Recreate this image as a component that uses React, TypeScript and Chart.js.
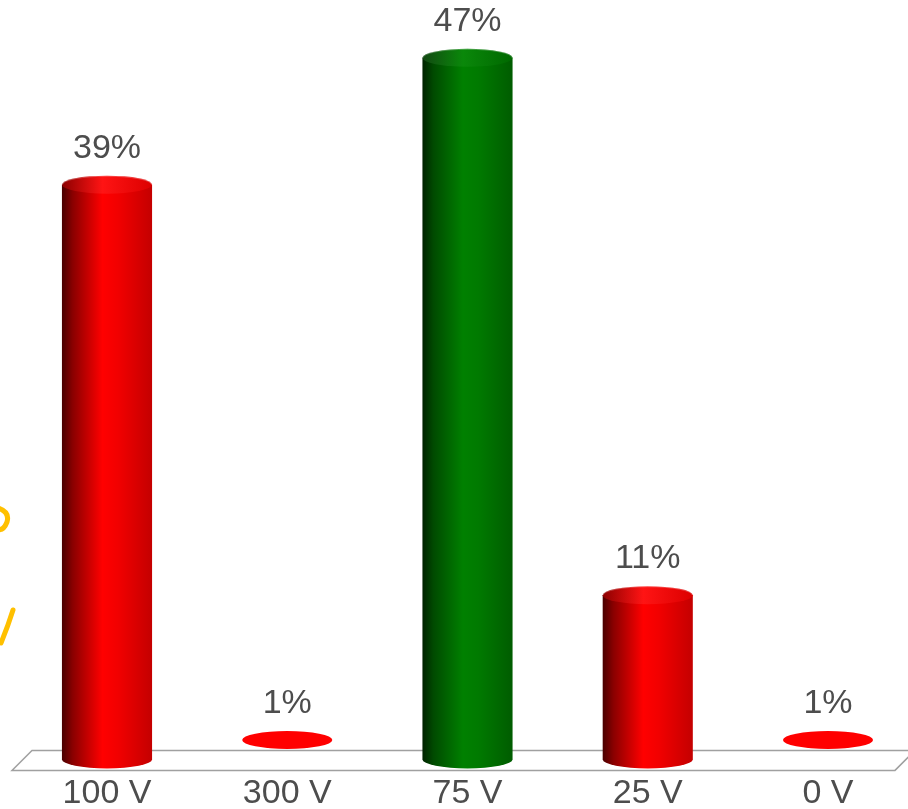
import React, { useEffect, useRef } from "react";
import { Chart, registerables } from "chart.js";

Chart.register(...registerables);

// ---- Data ----
const categories: string[] = ["100 V", "300 V", "75 V", "25 V", "0 V"];
const percentages: number[] = [38.5, 1.3, 47, 11, 1.3];
const isCorrect: boolean[] = [false, false, true, false, false];
const yMax = 50;

const FONT = '"Liberation Sans", Arial, sans-serif';
const TEXT_COLOR = "#4d4d4d";

const RED_BODY: [number, string][] = [
  [0, "#4a0000"], [0.12, "#8a0000"], [0.45, "#ff0000"], [0.62, "#f20000"], [1, "#c40000"],
];
const RED_TOP: [number, string][] = [
  [0, "#8c0000"], [0.45, "#ff1414"], [1, "#dc0000"],
];
const GREEN_BODY: [number, string][] = [
  [0, "#002200"], [0.12, "#004a00"], [0.45, "#008000"], [0.62, "#007a00"], [1, "#005c00"],
];
const GREEN_TOP: [number, string][] = [
  [0, "#124812"], [0.45, "#0a880a"], [1, "#006800"],
];

function grad(ctx: CanvasRenderingContext2D, x0: number, x1: number, stops: [number, string][]) {
  const g = ctx.createLinearGradient(x0, 0, x1, 0);
  stops.forEach(([o, c]) => g.addColorStop(o, c));
  return g;
}

const cylinderPlugin = {
  id: "cylinders",
  beforeDatasetsDraw(chart: any) {
    const ctx: CanvasRenderingContext2D = chart.ctx;
    const area = chart.chartArea;
    const base = chart.scales.y.getPixelForValue(0);
    const frontY = base + 11;
    const backY = base - 9;
    const lx = area.left - 95;
    const rx = area.right + 67;
    ctx.save();
    ctx.strokeStyle = "#a0a0a0";
    ctx.lineWidth = 1.5;
    ctx.beginPath();
    ctx.moveTo(lx, frontY);
    ctx.lineTo(rx, frontY);
    ctx.lineTo(rx + 20, backY);
    ctx.lineTo(lx + 20, backY);
    ctx.closePath();
    ctx.stroke();
    ctx.restore();
  },
  afterDatasetsDraw(chart: any) {
    const ctx: CanvasRenderingContext2D = chart.ctx;
    const meta = chart.getDatasetMeta(0);
    const ry = 9;
    ctx.save();
    meta.data.forEach((bar: any, i: number) => {
      const { x, y, base, width } = bar.getProps(["x", "y", "base", "width"], true);
      const rx = width / 2;
      const x0 = x - rx;
      const x1 = x + rx;
      const green = isCorrect[i];
      const bodyStops = green ? GREEN_BODY : RED_BODY;
      const topStops = green ? GREEN_TOP : RED_TOP;
      if (base - y < 2.5 * ry) {
        // flat disk for tiny values
        ctx.fillStyle = green ? "#008000" : "#ff0000";
        ctx.beginPath();
        ctx.ellipse(x, y, rx, ry, 0, 0, Math.PI * 2);
        ctx.fill();
      } else {
        // body + bottom ellipse
        ctx.fillStyle = grad(ctx, x0, x1, bodyStops);
        ctx.beginPath();
        ctx.moveTo(x0, y);
        ctx.lineTo(x0, base);
        ctx.ellipse(x, base, rx, ry, 0, Math.PI, 0, true);
        ctx.lineTo(x1, y);
        ctx.closePath();
        ctx.fill();
        // top cap
        ctx.fillStyle = grad(ctx, x0, x1, topStops);
        ctx.beginPath();
        ctx.ellipse(x, y, rx, ry, 0, 0, Math.PI * 2);
        ctx.fill();
        ctx.strokeStyle = "rgba(255,255,255,0.25)";
        ctx.lineWidth = 1;
        ctx.beginPath();
        ctx.ellipse(x, y, rx - 0.5, ry - 0.5, 0, Math.PI, Math.PI * 2);
        ctx.stroke();
      }
      // value label
      ctx.fillStyle = TEXT_COLOR;
      ctx.font = `34px ${FONT}`;
      ctx.textAlign = "center";
      ctx.textBaseline = "alphabetic";
      ctx.fillText(`${Math.round(percentages[i])}%`, x, y - ry - 18);
    });
    ctx.restore();
  },
  afterDraw(chart: any) {
    // handwritten annotation marks at the left edge
    const ctx: CanvasRenderingContext2D = chart.ctx;
    ctx.save();
    ctx.strokeStyle = "#ffc000";
    ctx.lineWidth = 5;
    ctx.lineCap = "round";
    ctx.beginPath();
    ctx.moveTo(-2, 508);
    ctx.quadraticCurveTo(10, 512, 7, 522);
    ctx.quadraticCurveTo(4, 530, -2, 530);
    ctx.stroke();
    ctx.beginPath();
    ctx.moveTo(13, 610);
    ctx.quadraticCurveTo(8, 626, 1, 643);
    ctx.stroke();
    ctx.restore();
  },
};

export default function App() {
  const canvasRef = useRef<HTMLCanvasElement | null>(null);

  useEffect(() => {
    document.body.style.margin = "0";
    const canvas = canvasRef.current;
    if (!canvas) return;
    const chart = new Chart(canvas, {
      type: "bar",
      data: {
        labels: categories,
        datasets: [
          {
            data: percentages,
            backgroundColor: "rgba(0,0,0,0)",
            borderWidth: 0,
            barPercentage: 0.5,
            categoryPercentage: 1,
            clip: false as any,
          },
        ],
      },
      options: {
        responsive: false,
        animation: false,
        layout: { padding: { top: 13, bottom: -19, left: 107, right: 80 } },
        plugins: {
          legend: { display: false },
          tooltip: { enabled: false },
          title: { display: false },
        },
        scales: {
          x: {
            offset: false,
            grid: { display: false, drawTicks: false, offset: false },
            border: { display: false },
            ticks: {
              color: TEXT_COLOR,
              font: { family: FONT, size: 34, lineHeight: 0.9 },
              padding: 19,
              maxRotation: 0,
              autoSkip: false,
            },
          },
          y: {
            display: false,
            min: 0,
            max: yMax,
          },
        },
      },
      plugins: [cylinderPlugin],
    });
    return () => chart.destroy();
  }, []);

  return (
    <div style={{ position: "absolute", left: 0, top: 0, width: 908, height: 809, background: "#fff" }}>
      <canvas ref={canvasRef} width={908} height={809} style={{ display: "block" }} />
    </div>
  );
}
